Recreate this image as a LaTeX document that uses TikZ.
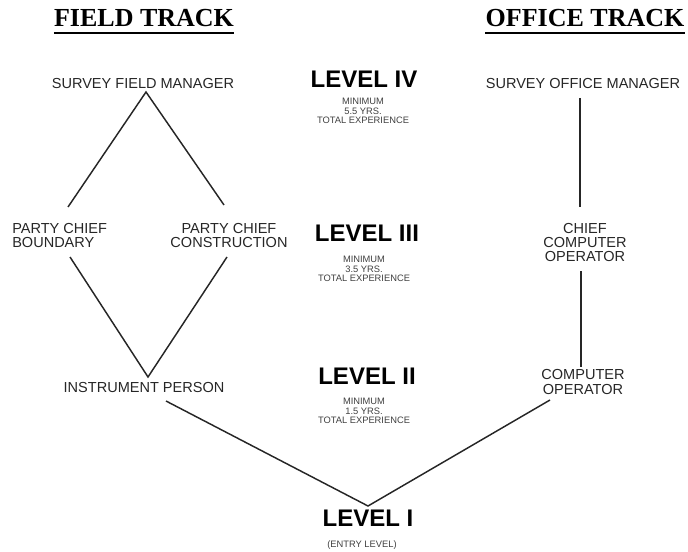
\documentclass[tikz,border=0pt]{standalone}
\usepackage{fontspec}
\setmainfont{Liberation Sans}
\newfontfamily\hdrfont{Liberation Serif}
\begin{document}
\begin{tikzpicture}[x=0.75pt,y=-0.75pt,
  hdr/.style={font=\hdrfont\bfseries\fontsize{19.5}{20}\selectfont, inner sep=0pt, anchor=base},
  role/.style={font=\fontsize{10.9}{10.6}\selectfont, inner sep=0pt, anchor=north, align=center, text=black!85},
  lvl/.style={font=\bfseries\fontsize{18}{18}\selectfont, inner sep=0pt, anchor=north},
  note/.style={font=\fontsize{7}{7.1}\selectfont, inner sep=0pt, anchor=north, align=center, text=black!75},
  link/.style={line width=1.1pt, black!85},
  vlink/.style={line width=1.7pt, black!85}]
\useasboundingbox (0,0) rectangle (688,552);
% headers
\node[hdr] (ft) at (144,27) {FIELD TRACK};
\node[hdr] (ot) at (585,27) {OFFICE TRACK};
\draw[line width=2.2pt] ([yshift=-4.5pt]ft.base west) -- ([yshift=-4.5pt]ft.base east);
\draw[line width=2.2pt] ([yshift=-4.5pt]ot.base west) -- ([yshift=-4.5pt]ot.base east);
% field track
\node[role] (sfm) at (143,78) {SURVEY FIELD MANAGER};
\node[role, anchor=north west, align=left] (pcb) at (12,223) {PARTY CHIEF\\BOUNDARY};
\node[role] (pcc) at (229,223) {PARTY CHIEF\\CONSTRUCTION};
\node[role] (ip) at (144,382) {INSTRUMENT PERSON};
% office track
\node[role] (som) at (583,78) {SURVEY OFFICE MANAGER};
\node[role] (cco) at (585,223) {CHIEF\\COMPUTER\\OPERATOR};
\node[role] (co) at (583,369.5) {COMPUTER\\OPERATOR};
% levels
\node[lvl] (l4) at (364,71) {LEVEL IV};
\node[note] (n4) at (363,98) {MINIMUM\\5.5 YRS.\\TOTAL EXPERIENCE};
\node[lvl] (l3) at (367,225) {LEVEL III};
\node[note] (n3) at (364,256) {MINIMUM\\3.5 YRS.\\TOTAL EXPERIENCE};
\node[lvl] (l2) at (367,368) {LEVEL II};
\node[note] (n2) at (364,398) {MINIMUM\\1.5 YRS.\\TOTAL EXPERIENCE};
\node[lvl] (l1) at (368,510) {LEVEL I};
\node[note, anchor=base] (n1) at (362,547) {(ENTRY LEVEL)};
% connector points
\coordinate (fa) at (146,92);
\coordinate (fl) at (68,207);
\coordinate (fr) at (224,205);
\coordinate (gl) at (70,257);
\coordinate (gr) at (227,257);
\coordinate (fb) at (148,377);
\coordinate (ipo) at (166,401);
\coordinate (ent) at (368,506);
\coordinate (coo) at (550,400);
\coordinate (o1) at (580,98);
\coordinate (o2) at (580,207);
\coordinate (o3) at (581,271);
\coordinate (o4) at (581,367);
% connectors
\draw[link] (fl) -- (fa) -- (fr);
\draw[link] (gl) -- (fb) -- (gr);
\draw[link] (ipo) -- (ent) -- (coo);
\draw[vlink] (o1) -- (o2);
\draw[link, line width=1.4pt] (o3) -- (o4);
\end{tikzpicture}
\end{document}
